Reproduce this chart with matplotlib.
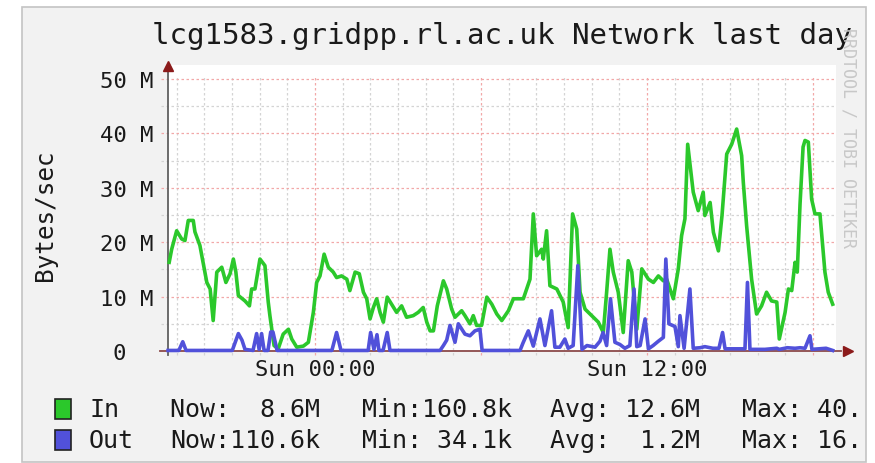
import numpy as np
import matplotlib
matplotlib.use("Agg")
import matplotlib.pyplot as plt
from matplotlib.patches import Rectangle

# ---------------- data (hours relative to Sun 00:00, values in MB/s) ----------------
title = "lcg1583.gridpp.rl.ac.uk Network last day"
y_label = "Bytes/sec"
y_ticks = [0, 10, 20, 30, 40, 50]
y_tick_labels = ["0  ", "10 M", "20 M", "30 M", "40 M", "50 M"]
x_ticks = [0, 12]
x_tick_labels = ["Sun 00:00", "Sun 12:00"]

in_hours = [-5.27, -5.18, -5.00, -4.82, -4.70, -4.58, -4.40, -4.34, -4.16, -3.91, -3.79, -3.68,
            -3.55, -3.37, -3.22, -3.07, -2.95, -2.86, -2.77, -2.53, -2.37, -2.29, -2.17, -1.99,
            -1.81, -1.69, -1.63, -1.48, -1.33, -1.15, -0.96, -0.84, -0.66, -0.42, -0.24, -0.06,
            0.06, 0.18, 0.33, 0.48, 0.66, 0.78, 0.96, 1.15, 1.26, 1.45, 1.60, 1.75, 1.87, 1.99,
            2.11, 2.23, 2.35, 2.47, 2.61, 2.77, 2.95, 3.13, 3.31, 3.55, 3.73, 3.91, 4.04, 4.16,
            4.28, 4.42, 4.64, 4.76, 4.94, 5.06, 5.30, 5.42, 5.60, 5.72, 5.84, 6.02, 6.21, 6.39,
            6.57, 6.75, 6.99, 7.17, 7.53, 7.77, 7.89, 8.01, 8.19, 8.25, 8.37, 8.49, 8.74, 8.97,
            9.15, 9.31, 9.46, 9.58, 9.76, 10.00, 10.24, 10.42, 10.54, 10.66, 10.78, 10.96, 11.14,
            11.32, 11.45, 11.63, 11.81, 12.05, 12.23, 12.41, 12.59, 12.71, 12.95, 13.13, 13.25,
            13.37, 13.47, 13.67, 13.85, 14.03, 14.09, 14.28, 14.40, 14.58, 14.71, 14.88, 15.06,
            15.24, 15.42, 15.48, 15.60, 15.78, 15.96, 16.14, 16.32, 16.50, 16.69, 16.78, 16.99,
            17.11, 17.23, 17.35, 17.43, 17.53, 17.64, 17.71, 17.83, 17.95, 18.07, 18.25, 18.43,
            18.55, 18.71]
in_values = [16.3, 18.7, 22.1, 20.6, 20.3, 24.0, 24.0, 21.9, 19.4, 12.6, 11.4, 5.6,
             14.5, 15.4, 12.6, 14.2, 16.9, 14.5, 10.2, 9.2, 8.3, 11.4, 11.4, 16.9,
             15.7, 9.0, 6.5, 1.0, 0.4, 3.1, 4.0, 2.2, 0.7, 0.9, 1.6, 7.1,
             12.6, 13.8, 17.8, 15.4, 14.5, 13.5, 13.8, 13.2, 11.1, 14.5, 14.2, 10.8, 9.6, 5.9,
             8.0, 9.6, 7.1, 5.3, 9.9, 8.6, 7.1, 8.3, 6.2, 6.5, 7.1, 8.0, 5.3, 3.7,
             3.7, 8.3, 12.9, 11.4, 7.7, 6.2, 7.4, 6.5, 5.0, 6.5, 4.7, 4.7, 9.9, 8.6,
             6.8, 5.6, 7.4, 9.6, 9.6, 13.2, 25.2, 17.5, 18.7, 16.9, 22.1, 12.0, 11.4, 9.0,
             4.3, 25.2, 22.4, 10.8, 7.7, 6.5, 5.3, 3.4, 10.8, 18.7, 14.5, 10.8, 3.4,
             16.6, 14.5, 4.0, 15.1, 13.2, 12.6, 13.8, 12.9, 13.2, 9.6, 15.1, 21.2,
             24.3, 38.0, 29.2, 25.8, 29.2, 24.9, 27.3, 21.8, 18.4, 24.9, 36.2, 38.0,
             40.8, 35.9, 31.0, 23.0, 13.2, 6.8, 8.3, 10.8, 9.2, 9.0, 2.2, 7.1,
             11.4, 11.1, 16.3, 14.5, 27.0, 37.5, 38.7, 38.4, 27.9, 25.2, 25.2, 14.5,
             10.8, 8.6]

out_hours = [-5.31, -4.92, -4.78, -4.66, -2.99, -2.77, -2.64, -2.53, -2.24, -2.11, -2.02, -1.93,
             -1.84, -1.70, -1.60, -1.52, -1.37, 0.61, 0.78, 0.94, 1.92, 2.01, 2.13, 2.24, 2.31,
             2.46, 2.61, 2.71, 4.52, 4.64, 4.76, 4.88, 5.06, 5.18, 5.42, 5.60, 5.78, 5.96, 6.04,
             7.41, 7.52, 7.71, 7.89, 8.13, 8.31, 8.55, 8.67, 8.85, 9.03, 9.15, 9.33, 9.50, 9.65,
             9.83, 10.12, 10.30, 10.41, 10.54, 10.68, 10.84, 11.02, 11.20, 11.38, 11.53, 11.63,
             11.75, 11.93, 12.05, 12.22, 12.41, 12.59, 12.68, 12.79, 13.01, 13.13, 13.19, 13.34,
             13.55, 13.67, 13.92, 14.09, 14.38, 14.60, 14.73, 14.82, 15.54, 15.63, 15.72, 16.26,
             16.69, 16.78, 17.07, 17.35, 17.53, 17.71, 17.89, 17.96, 18.47, 18.71]
out_values = [0.1, 0.1, 1.7, 0.1, 0.1, 3.2, 2.0, 0.3, 0.1, 3.2, 0.3, 3.2,
              0.1, 0.1, 3.5, 3.5, 0.1, 0.1, 3.4, 0.1, 0.1, 3.4, 0.3, 3.0, 0.1,
              0.1, 3.4, 0.1, 0.1, 1.0, 2.0, 4.7, 1.6, 5.0, 3.1, 2.8, 3.7, 4.0, 0.1,
              0.1, 1.5, 3.7, 0.9, 5.9, 1.0, 7.4, 0.7, 0.7, 2.2, 0.5, 1.0, 15.7, 0.3,
              1.0, 0.7, 1.8, 3.4, 1.0, 9.6, 1.6, 1.2, 0.5, 1.0, 11.4, 0.8,
              1.0, 5.9, 0.4, 1.0, 1.8, 2.5, 16.9, 5.0, 4.5, 0.8, 6.5, 0.5,
              11.4, 0.5, 0.6, 0.8, 0.5, 0.5, 3.4, 0.4, 0.4, 12.6, 0.3, 0.3,
              0.5, 0.3, 0.6, 0.5, 0.6, 0.5, 2.8, 0.3, 0.5, 0.1]

legend_names = ["In", "Out"]
legend_now = ["  8.6M", "110.6k"]
legend_min = ["160.8k", " 34.1k"]
legend_avg = [" 12.6M", "  1.2M"]
legend_max = [" 40.", " 16."]

# ---------------- styling ----------------
GREEN = "#2BC82B"
BLUE = "#5151DA"
MONO = "DejaVu Sans Mono"
TXT = "#1a1a1a"

W, H = 875, 464
fig = plt.figure(figsize=(W / 100, H / 100), dpi=100)
fig.patch.set_facecolor("white")


def fx(px):
    return px / W


def fy(py):
    return 1 - py / H


# rrdtool frame (behind everything)
fig.patches.append(Rectangle((fx(22), fy(463)), fx(866) - fx(22), fy(8) - fy(463),
                             transform=fig.transFigure, facecolor="#F2F2F2",
                             edgecolor="#C4C4C4", lw=1.2, zorder=-10))

x0, x1 = -5.313, 18.83
ax = fig.add_axes([fx(168), fy(352), fx(836) - fx(168), fy(66) - fy(352)])
ax.set_zorder(1)
ax.set_facecolor("white")
ax.set_xlim(x0, x1)
ax.set_ylim(0, 52.57)
for s in ax.spines.values():
    s.set_visible(False)

# grid
hours = np.arange(-5, 19)
for h in hours:
    col = "#F2A8A8" if h % 6 == 0 else "#D4D4D4"
    ax.vlines(h, -0.8, 50.8, colors=col, linestyles=(0, (2, 2)), lw=0.9, zorder=1, clip_on=False)
for v in range(5, 51, 5):
    col = "#F2A8A8" if v % 10 == 0 else "#D4D4D4"
    ax.hlines(v, x0 - 0.25, x1, colors=col, linestyles=(0, (2, 2)), lw=0.9, zorder=1, clip_on=False)

# axes with arrows
ax.plot([x0, x0], [-0.7, 52.0], color="#606060", lw=1.3, zorder=2, clip_on=False)
ax.plot([x0], [52.4], marker="^", color="#8B1A1A", markersize=7, zorder=2, clip_on=False)
ax.plot([x0 - 0.3, 19.0], [0, 0], color="#8B4A4A", lw=1.3, zorder=2, clip_on=False)
ax.plot([19.25], [0], marker=">", color="#8B1A1A", markersize=7, zorder=2, clip_on=False)

# data
ax.plot(in_hours, in_values, color=GREEN, lw=2.6, zorder=3, solid_joinstyle="round", clip_on=False)
ax.plot(out_hours, out_values, color=BLUE, lw=2.6, zorder=4, solid_joinstyle="round", clip_on=False)

# ticks
ax.set_yticks(y_ticks)
ax.set_yticklabels(y_tick_labels, fontfamily=MONO, fontsize=16, color=TXT)
ax.set_xticks(x_ticks)
ax.set_xticklabels(x_tick_labels, fontfamily=MONO, fontsize=16, color=TXT)
ax.tick_params(axis="y", length=0, pad=10.5)
ax.tick_params(axis="x", length=0, pad=6)

# texts
fig.text(fx(502), fy(36), title, ha="center", va="center", fontfamily=MONO, fontsize=21, color=TXT)
fig.text(fx(45), fy(215), y_label, rotation=90, ha="center", va="center", fontfamily=MONO,
         fontsize=17.5, color=TXT)
fig.text(fx(848), fy(138), "RRDTOOL / TOBI OETIKER", rotation=270, ha="center", va="center",
         fontfamily=MONO, fontsize=12, color="#C8C8C8", zorder=5)

# legend
colors = [GREEN, BLUE]
rows_y = [410, 441]
for i in range(2):
    yc = rows_y[i]
    fig.patches.append(Rectangle((fx(55), fy(yc + 10)), 16 / W, 20 / H, transform=fig.transFigure,
                                 facecolor=colors[i], edgecolor="#222222", lw=1.2, zorder=2))
    fig.text(fx(89), fy(yc), legend_names[i], ha="left", va="center", fontfamily=MONO, fontsize=18, color=TXT)
    fig.text(fx(170), fy(yc), "Now:" + legend_now[i], ha="left", va="center", fontfamily=MONO, fontsize=18, color=TXT)
    fig.text(fx(362), fy(yc), "Min:" + legend_min[i], ha="left", va="center", fontfamily=MONO, fontsize=18, color=TXT)
    fig.text(fx(550), fy(yc), "Avg:" + legend_avg[i], ha="left", va="center", fontfamily=MONO, fontsize=18, color=TXT)
    fig.text(fx(742), fy(yc), "Max:" + legend_max[i], ha="left", va="center", fontfamily=MONO, fontsize=18, color=TXT)

fig.savefig("out.png", dpi=100, facecolor=fig.get_facecolor())
